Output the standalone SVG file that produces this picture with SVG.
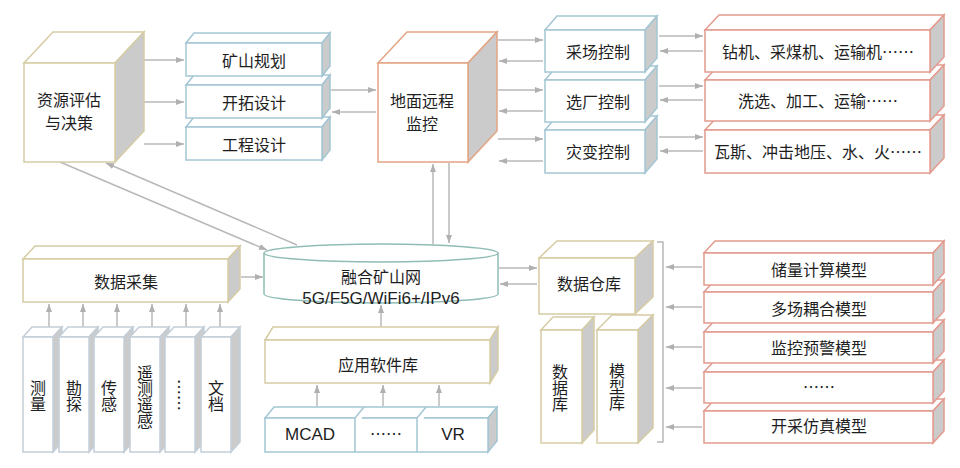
<svg xmlns="http://www.w3.org/2000/svg" width="960" height="468" viewBox="0 0 960 468">
<defs>
<style>
.t{font-family:"Noto Sans CJK SC","Liberation Sans",sans-serif;font-size:16px;fill:#1e1e1e;text-anchor:middle;dominant-baseline:central}
.v{writing-mode:vertical-rl}
.l{font-family:"Liberation Sans","Noto Sans CJK SC",sans-serif;font-size:17px}
.f{fill:#fff;stroke-width:1.5}
.s{fill:#cbcbcb;stroke-width:1.5}
.tan{stroke:#d6cca4}
.blu{stroke:#a4c6d4}
.org{stroke:#e3a584}
.red{stroke:#e39b8e}
.gry{stroke:#c4ced8}
.cyl{stroke:#8fbdb5}
#conn line,#conn path{stroke:#b8b8b8;stroke-width:1.5;fill:none}
#conn .a{marker-end:url(#ah)}
</style>
<marker id="ah" viewBox="0 0 8 6" refX="8" refY="3" markerWidth="8" markerHeight="6" orient="auto" markerUnits="userSpaceOnUse"><path d="M0,0L8,3L0,6z" fill="#b0b0b0"/></marker>
</defs>
<rect width="960" height="468" fill="#fff"/>

<g id="conn">
<line class="a" x1="144" y1="60" x2="184" y2="60"/>
<line class="a" x1="144" y1="102" x2="184" y2="102"/>
<line class="a" x1="144" y1="144" x2="184" y2="144"/>
<line class="a" x1="331" y1="90" x2="376" y2="90"/>
<line class="a" x1="376" y1="112" x2="332" y2="112"/>
<line class="a" x1="498" y1="40" x2="543" y2="40"/>
<line class="a" x1="543" y1="61" x2="499" y2="61"/>
<line class="a" x1="498" y1="90" x2="543" y2="90"/>
<line class="a" x1="543" y1="111" x2="499" y2="111"/>
<line class="a" x1="498" y1="139" x2="543" y2="139"/>
<line class="a" x1="543" y1="161" x2="499" y2="161"/>
<line class="a" x1="659" y1="36" x2="703" y2="36"/>
<line class="a" x1="703" y1="51" x2="660" y2="51"/>
<line class="a" x1="659" y1="86" x2="703" y2="86"/>
<line class="a" x1="703" y1="100" x2="660" y2="100"/>
<line class="a" x1="659" y1="137" x2="703" y2="137"/>
<line class="a" x1="703" y1="151" x2="660" y2="151"/>
<line class="a" x1="60" y1="162" x2="267" y2="250"/>
<line class="a" x1="297" y1="245" x2="106" y2="163"/>
<line class="a" x1="433" y1="244" x2="433" y2="164"/>
<line class="a" x1="449" y1="163" x2="449" y2="243"/>
<line class="a" x1="241" y1="277" x2="263" y2="277"/>
<line class="a" x1="499" y1="268" x2="537" y2="268"/>
<line class="a" x1="537" y1="284" x2="500" y2="284"/>
<line class="a" x1="381" y1="327" x2="381" y2="305"/>
<line class="a" x1="317" y1="406" x2="317" y2="385"/>
<line class="a" x1="383" y1="406" x2="383" y2="385"/>
<line class="a" x1="439" y1="406" x2="439" y2="385"/>
<line class="a" x1="49" y1="327" x2="49" y2="304"/>
<line class="a" x1="83" y1="327" x2="83" y2="304"/>
<line class="a" x1="117" y1="327" x2="117" y2="304"/>
<line class="a" x1="152" y1="327" x2="152" y2="304"/>
<line class="a" x1="186" y1="327" x2="186" y2="304"/>
<line class="a" x1="220" y1="327" x2="220" y2="304"/>
<line class="a" x1="702" y1="267" x2="666" y2="267"/>
<line class="a" x1="702" y1="307" x2="666" y2="307"/>
<line class="a" x1="702" y1="347" x2="666" y2="347"/>
<line class="a" x1="702" y1="388" x2="666" y2="388"/>
<line class="a" x1="702" y1="427" x2="666" y2="427"/>
<path d="M657,242H663V442H657"/>
</g>

<g id="zypg">
<polygon class="f tan" points="24,63 53,32 144,32 115,63"/>
<polygon class="s tan" points="115,63 144,32 144,131 115,162"/>
<rect class="f tan" x="24" y="63" width="91" height="99"/>
<text class="t"><tspan x="69" y="99">资源评估</tspan><tspan x="69" y="122">与决策</tspan></text>
</g>

<g id="gcsj">
<polygon class="f blu" points="186,127 194,117 330,117 322,127"/>
<polygon class="s blu" points="322,127 330,117 330,150 322,160"/>
<rect class="f blu" x="186" y="127" width="136" height="33"/>
<text class="t" x="254" y="144">工程设计</text>
</g>
<g id="ktsj">
<polygon class="f blu" points="186,85 194,75 330,75 322,85"/>
<polygon class="s blu" points="322,85 330,75 330,108 322,118"/>
<rect class="f blu" x="186" y="85" width="136" height="33"/>
<text class="t" x="254" y="102">开拓设计</text>
</g>
<g id="ksgh">
<polygon class="f blu" points="186,43 194,33 330,33 322,43"/>
<polygon class="s blu" points="322,43 330,33 330,66 322,76"/>
<rect class="f blu" x="186" y="43" width="136" height="33"/>
<text class="t" x="254" y="60">矿山规划</text>
</g>

<g id="dmyc">
<polygon class="f org" points="378,63 407,32 497,32 468,63"/>
<polygon class="s org" points="468,63 497,32 497,131 468,162"/>
<rect class="f org" x="378" y="63" width="90" height="99"/>
<text class="t"><tspan x="422" y="100">地面远程</tspan><tspan x="422" y="123">监控</tspan></text>
</g>

<g id="zbkz">
<polygon class="f blu" points="545,130 557,116 657,116 645,130"/>
<polygon class="s blu" points="645,130 657,116 657,159 645,173"/>
<rect class="f blu" x="545" y="130" width="100" height="43"/>
<text class="t" x="598" y="151">灾变控制</text>
</g>
<g id="xckz">
<polygon class="f blu" points="545,80 557,66 657,66 645,80"/>
<polygon class="s blu" points="645,80 657,66 657,108 645,122"/>
<rect class="f blu" x="545" y="80" width="100" height="42"/>
<text class="t" x="598" y="101">选厂控制</text>
</g>
<g id="cckz">
<polygon class="f blu" points="545,30 557,16 657,16 645,30"/>
<polygon class="s blu" points="645,30 657,16 657,58 645,72"/>
<rect class="f blu" x="545" y="30" width="100" height="42"/>
<text class="t" x="598" y="51">采场控制</text>
</g>

<g id="zbsb">
<polygon class="f red" points="705,130 719,115 944,115 930,130"/>
<polygon class="s red" points="930,130 944,115 944,158 930,173"/>
<rect class="f red" x="705" y="130" width="225" height="43"/>
<text class="t" x="818" y="151">瓦斯、冲击地压、水、火……</text>
</g>
<g id="xcsb">
<polygon class="f red" points="705,80 719,65 944,65 930,80"/>
<polygon class="s red" points="930,80 944,65 944,106 930,121"/>
<rect class="f red" x="705" y="80" width="225" height="41"/>
<text class="t" x="818" y="100">洗选、加工、运输……</text>
</g>
<g id="ccsb">
<polygon class="f red" points="705,30 719,15 944,15 930,30"/>
<polygon class="s red" points="930,30 944,15 944,57 930,72"/>
<rect class="f red" x="705" y="30" width="225" height="42"/>
<text class="t" x="818" y="51">钻机、采煤机、运输机……</text>
</g>

<g id="sjcj">
<polygon class="f tan" points="23,259 35,246 240,246 228,259"/>
<polygon class="s tan" points="228,259 240,246 240,289 228,302"/>
<rect class="f tan" x="23" y="259" width="205" height="43"/>
<text class="t" x="126" y="281">数据采集</text>
</g>

<g id="cl">
<polygon class="f gry" points="23,337 32,327 62,327 53,337"/>
<polygon class="s gry" points="53,337 62,327 62,442 53,452"/>
<rect class="f gry" x="23" y="337" width="30" height="115"/>
<text class="t v" x="38" y="396">测量</text>
</g>
<g id="kt">
<polygon class="f gry" points="59,337 68,327 98,327 89,337"/>
<polygon class="s gry" points="89,337 98,327 98,442 89,452"/>
<rect class="f gry" x="59" y="337" width="30" height="115"/>
<text class="t v" x="74" y="396">勘探</text>
</g>
<g id="cg">
<polygon class="f gry" points="94,337 103,327 133,327 124,337"/>
<polygon class="s gry" points="124,337 133,327 133,442 124,452"/>
<rect class="f gry" x="94" y="337" width="30" height="115"/>
<text class="t v" x="109" y="396">传感</text>
</g>
<g id="ycyg">
<polygon class="f gry" points="130,337 139,327 169,327 160,337"/>
<polygon class="s gry" points="160,337 169,327 169,442 160,452"/>
<rect class="f gry" x="130" y="337" width="30" height="115"/>
<text class="t v" x="145" y="397">遥测遥感</text>
</g>
<g id="dots">
<polygon class="f gry" points="165,337 174,327 204,327 195,337"/>
<polygon class="s gry" points="195,337 204,327 204,442 195,452"/>
<rect class="f gry" x="165" y="337" width="30" height="115"/>
<text class="t v" x="180" y="395">……</text>
</g>
<g id="wd">
<polygon class="f gry" points="201,337 210,327 240,327 231,337"/>
<polygon class="s gry" points="231,337 240,327 240,442 231,452"/>
<rect class="f gry" x="201" y="337" width="30" height="115"/>
<text class="t v" x="216" y="396">文档</text>
</g>

<g id="rhksw">
<path class="f cyl" d="M264,253V294A117,9 0 0 0 498,294V253"/>
<ellipse class="f cyl" cx="381" cy="253" rx="117" ry="9"/>
<text class="t"><tspan x="381" y="276">融合矿山网</tspan><tspan class="l" x="381" y="298">5G/F5G/WiFi6+/IPv6</tspan></text>
</g>

<g id="yyrjk">
<polygon class="f tan" points="265,340 273,327 498,327 490,340"/>
<polygon class="s tan" points="490,340 498,327 498,370 490,383"/>
<rect class="f tan" x="265" y="340" width="225" height="43"/>
<text class="t" x="378" y="364">应用软件库</text>
</g>

<g id="rjlb">
<polygon class="f blu" points="265,418 274,407 497,407 488,418"/>
<polygon class="s blu" points="488,418 497,407 497,441 488,452"/>
<rect class="f blu" x="265" y="418" width="223" height="34"/>
<path class="f blu" d="M355,452V418L364,407M417,452V418L426,407"/>
<text class="t l" x="310" y="434">MCAD</text>
<text class="t" x="386" y="433">……</text>
<text class="t l" x="453" y="434">VR</text>
</g>

<g id="sjck">
<polygon class="f tan" points="539,258 557,241 653,241 635,258"/>
<polygon class="s tan" points="635,258 653,241 653,297 635,314"/>
<rect class="f tan" x="539" y="258" width="96" height="56"/>
<text class="t" x="589" y="283">数据仓库</text>
</g>
<g id="sjk">
<polygon class="f tan" points="541,330 553,317 594,317 582,330"/>
<polygon class="s tan" points="582,330 594,317 594,430 582,443"/>
<rect class="f tan" x="541" y="330" width="41" height="113"/>
<text class="t v" x="560" y="388">数据库</text>
</g>
<g id="mxk">
<polygon class="f tan" points="597,330 612,315 653,315 638,330"/>
<polygon class="s tan" points="638,330 653,315 653,428 638,443"/>
<rect class="f tan" x="597" y="330" width="41" height="113"/>
<text class="t v" x="617" y="387">模型库</text>
</g>

<g id="kcfz">
<polygon class="f red" points="704,411 715,399 944,399 933,411"/>
<polygon class="s red" points="933,411 944,399 944,431 933,443"/>
<rect class="f red" x="704" y="411" width="229" height="32"/>
<text class="t" x="819" y="425">开采仿真模型</text>
</g>
<g id="mdots">
<polygon class="f red" points="704,372 715,360 944,360 933,372"/>
<polygon class="s red" points="933,372 944,360 944,391 933,403"/>
<rect class="f red" x="704" y="372" width="229" height="31"/>
<text class="t" x="819" y="386">……</text>
</g>
<g id="jkyj">
<polygon class="f red" points="704,332 715,320 944,320 933,332"/>
<polygon class="s red" points="933,332 944,320 944,351 933,363"/>
<rect class="f red" x="704" y="332" width="229" height="31"/>
<text class="t" x="819" y="347">监控预警模型</text>
</g>
<g id="dcoh">
<polygon class="f red" points="704,292 715,280 944,280 933,292"/>
<polygon class="s red" points="933,292 944,280 944,311 933,323"/>
<rect class="f red" x="704" y="292" width="229" height="31"/>
<text class="t" x="819" y="308">多场耦合模型</text>
</g>
<g id="cljs">
<polygon class="f red" points="704,253 715,241 944,241 933,253"/>
<polygon class="s red" points="933,253 944,241 944,273 933,285"/>
<rect class="f red" x="704" y="253" width="229" height="32"/>
<text class="t" x="819" y="269">储量计算模型</text>
</g>
</svg>
